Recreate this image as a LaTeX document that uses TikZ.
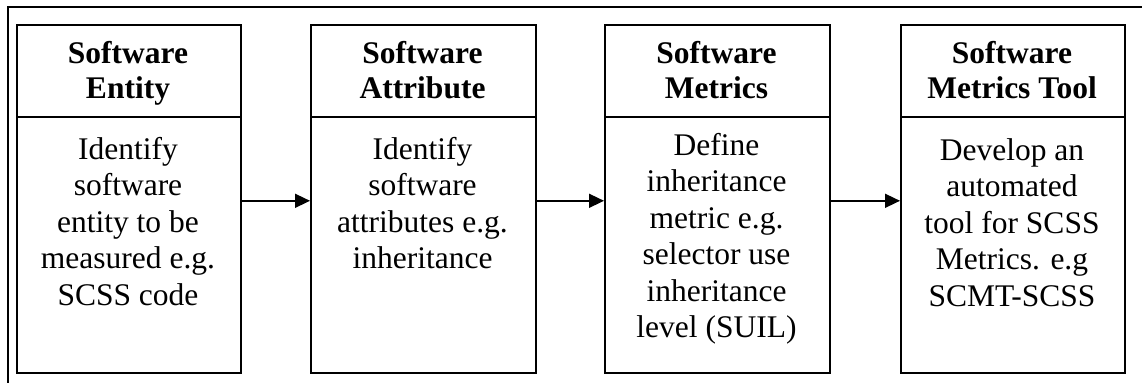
\documentclass[tikz,border=0pt]{standalone}
\usepackage{fontspec}
\setmainfont{Liberation Serif}
\usetikzlibrary{arrows.meta}
\begin{document}
\begin{tikzpicture}[x=1pt,y=-1pt,
  stagebox/.style={draw, line width=1.6pt, minimum width=224pt, minimum height=348pt, inner sep=0pt, anchor=north west},
  head/.style={align=center, inner sep=0pt, anchor=base, font=\fontsize{31.5}{35}\selectfont\bfseries},
  body/.style={align=center, inner sep=0pt, anchor=base, font=\fontsize{31.5}{36.5}\selectfont},
  flow/.style={line width=1.6pt, -{Triangle[length=15pt,width=14pt]}},
  frame/.style={line width=1.4pt}]
\useasboundingbox (0,0) rectangle (1142,383);
% outer frame
\coordinate (fa) at (1142,7);
\coordinate (fb) at (8,7);
\coordinate (fc) at (8,383);
\draw[frame] (fa) -- (fb) -- (fc);
% boxes
\node[stagebox] (b1) at (16,24) {};
\node[stagebox, minimum width=225pt] (b2) at (310,24) {};
\node[stagebox, minimum width=225pt] (b3) at (604,24) {};
\node[stagebox] (b4) at (900,24) {};
\foreach \b in {b1,b2,b3,b4}{
  \draw[line width=1.6pt] ([yshift=-93pt]\b.north west) -- ([yshift=-93pt]\b.north east);
}
% headers (anchor = baseline of last line)
\node[head] (h1) at (128,98) {Software\\Entity};
\node[head] (h2) at (422.5,98) {Software\\Attribute};
\node[head] (h3) at (716.5,98) {Software\\Metrics};
\node[head] (h4) at (1012,98) {Software\\Metrics Tool};
% bodies (anchor = baseline of last line)
\node[body] (t1) at (128,305) {Identify\\software\\entity to be\\measured e.g.\\SCSS code};
\node[body] (t2) at (422.5,268.5) {Identify\\software\\attributes e.g.\\inheritance};
\node[body] (t3) at (716.5,337.5) {Define\\inheritance\\metric e.g.\\selector use\\inheritance\\level (SUIL)};
\node[body] (t4) at (1012,306) {Develop an\\automated\\tool for SCSS\\Metrics. e.g\\SCMT-SCSS};
% arrows
\draw[flow] ([yshift=-2pt]b1.east) -- ([yshift=-2pt]b2.west);
\draw[flow] ([yshift=-2pt]b2.east) -- ([yshift=-2pt]b3.west);
\draw[flow] ([yshift=-2pt]b3.east) -- ([yshift=-2pt]b4.west);
\end{tikzpicture}
\end{document}
